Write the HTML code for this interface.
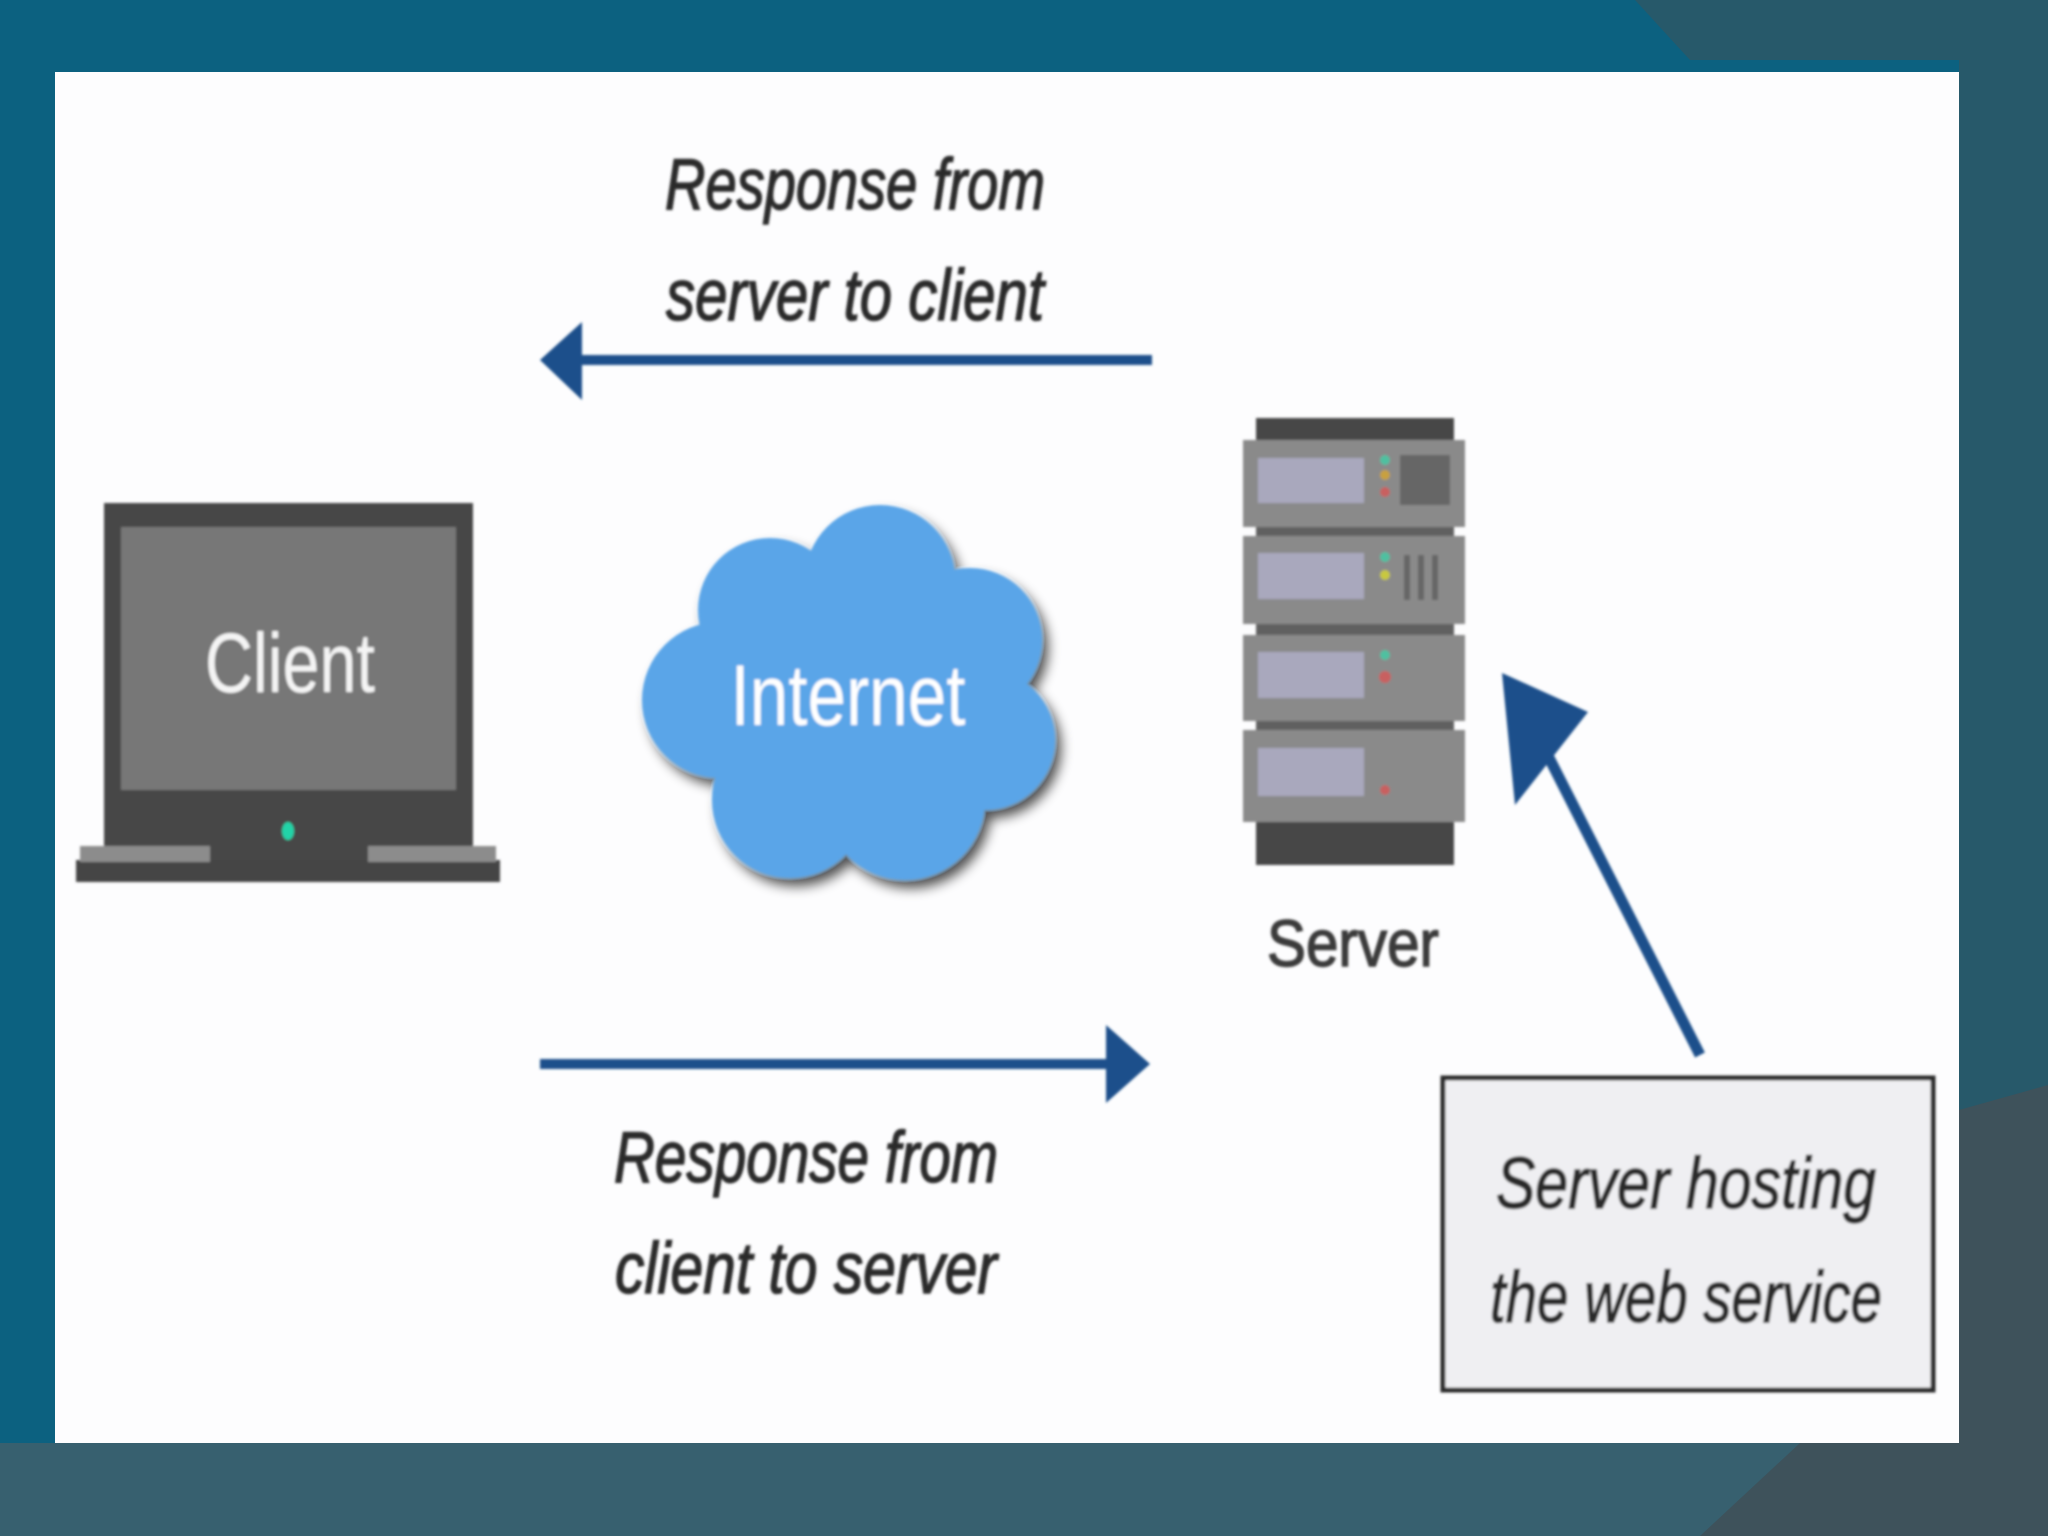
<!DOCTYPE html>
<html><head><meta charset="utf-8"><style>
html,body{margin:0;padding:0;width:2048px;height:1536px;overflow:hidden;background:#0c6180}
svg{display:block}
</style></head><body>
<svg width="2048" height="1536" viewBox="0 0 2048 1536" xmlns="http://www.w3.org/2000/svg">
<defs>
<filter id="sh" x="-20%" y="-20%" width="140%" height="140%"><feGaussianBlur in="SourceAlpha" stdDeviation="6"/><feOffset dx="6" dy="8"/><feComponentTransfer><feFuncA type="linear" slope="0.7"/></feComponentTransfer><feMerge><feMergeNode/><feMergeNode in="SourceGraphic"/></feMerge></filter>
<filter id="bl"><feGaussianBlur stdDeviation="1.2"/></filter>
</defs>
<rect width="2048" height="1536" fill="#0c6180"/>
<polygon points="1635,0 2048,0 2048,1536 1700,1536 1700,1443 1959,1443 1959,60 1690,60" fill="#27596a"/>
<rect x="0" y="1443" width="2048" height="93" fill="#37606f"/>
<polygon points="1959,1110 2048,1085 2048,1536 1700,1536 1800,1443 1959,1443" fill="#3e525b"/>
<rect x="55" y="72" width="1904" height="1371" fill="#fdfdfe"/>
<g filter="url(#bl)">
<line x1="1152" y1="360" x2="570" y2="360" stroke="#1b4f8b" stroke-width="10"/>
<polygon points="540,360 582,322 582,400" fill="#1b4f8b"/>
<line x1="540" y1="1064" x2="1120" y2="1064" stroke="#1b4f8b" stroke-width="10"/>
<polygon points="1150,1064 1106,1025 1106,1103" fill="#1b4f8b"/>
<line x1="1700" y1="1055" x2="1540" y2="740" stroke="#1b4f8b" stroke-width="11"/>
<polygon points="1502,673 1588,712 1515,805" fill="#1b4f8b"/>
<rect x="104" y="503" width="369" height="362" fill="#474747"/>
<rect x="121" y="527" width="335" height="263" fill="#777777"/>
<rect x="76" y="860" width="424" height="22" fill="#444"/>
<rect x="80" y="846" width="130" height="16" fill="#8c8c8c"/>
<rect x="368" y="846" width="128" height="16" fill="#8c8c8c"/>
<ellipse cx="288" cy="831" rx="6" ry="9" fill="#22d4a8"/>
<text x="290" y="692" text-anchor="middle" font-family="Liberation Sans Narrow, Liberation Sans, sans-serif" font-size="84" fill="#f4f4f4" textLength="170" lengthAdjust="spacingAndGlyphs">Client</text>
<g filter="url(#sh)" fill="#5aa5e8">
<circle cx="720" cy="700" r="78"/>
<circle cx="770" cy="610" r="72"/>
<circle cx="880" cy="580" r="75"/>
<circle cx="970" cy="640" r="72"/>
<circle cx="985" cy="740" r="70"/>
<circle cx="905" cy="800" r="80"/>
<circle cx="790" cy="800" r="78"/>
<circle cx="850" cy="700" r="130"/>
</g>
<text x="848" y="725" text-anchor="middle" font-family="Liberation Sans Narrow, Liberation Sans, sans-serif" font-size="86" fill="#ffffff" textLength="235" lengthAdjust="spacingAndGlyphs">Internet</text>
<rect x="1256" y="418" width="198" height="24" fill="#474747"/>
<rect x="1256" y="820" width="198" height="45" fill="#474747"/>
<g fill="#8a8a8a">
<rect x="1243" y="440" width="222" height="87"/>
<rect x="1243" y="536" width="222" height="88"/>
<rect x="1243" y="635" width="222" height="86"/>
<rect x="1243" y="730" width="222" height="92"/>
</g>
<g fill="#606060"><rect x="1256" y="527" width="198" height="9"/><rect x="1256" y="624" width="198" height="11"/><rect x="1256" y="721" width="198" height="9"/></g>
<g fill="#a9a8bd">
<rect x="1258" y="458" width="106" height="45"/>
<rect x="1258" y="553" width="106" height="46"/>
<rect x="1258" y="652" width="106" height="46"/>
<rect x="1258" y="748" width="106" height="48"/>
</g>
<g fill="#666"><rect x="1400" y="455" width="50" height="50"/><rect x="1404" y="555" width="6" height="45"/><rect x="1418" y="555" width="6" height="45"/><rect x="1432" y="555" width="6" height="45"/></g>
<circle cx="1385" cy="460" r="5" fill="#4fc0a0"/><circle cx="1385" cy="475" r="5" fill="#c8a040"/><circle cx="1385" cy="492" r="5" fill="#c86060"/>
<circle cx="1385" cy="557" r="5" fill="#4fc0a0"/><circle cx="1385" cy="575" r="5" fill="#c8c840"/>
<circle cx="1385" cy="655" r="5" fill="#4fc0a0"/><circle cx="1385" cy="677" r="6" fill="#c86060"/>
<circle cx="1385" cy="790" r="5" fill="#c86060"/>
<text x="1353" y="966" text-anchor="middle" font-family="Liberation Sans Narrow, Liberation Sans, sans-serif" font-size="66" fill="#3a3a3a" stroke="#3a3a3a" stroke-width="1.5" textLength="172" lengthAdjust="spacingAndGlyphs">Server</text>
<g font-family="Liberation Sans Narrow, Liberation Sans, sans-serif" font-style="italic" font-size="72" fill="#2b2b2b" stroke="#2b2b2b" stroke-width="1.5" text-anchor="middle">
<text x="855" y="209" textLength="380" lengthAdjust="spacingAndGlyphs">Response from</text>
<text x="855" y="320" textLength="378" lengthAdjust="spacingAndGlyphs">server to client</text>
<text x="806" y="1182" textLength="384" lengthAdjust="spacingAndGlyphs">Response from</text>
<text x="806" y="1293" textLength="382" lengthAdjust="spacingAndGlyphs">client to server</text>
</g>
<rect x="1443" y="1078" width="490" height="312" fill="#efeff2" stroke="#2a2a2a" stroke-width="5"/>
<g font-family="Liberation Sans Narrow, Liberation Sans, sans-serif" font-style="italic" font-size="72" fill="#2b2b2b" stroke="#2b2b2b" stroke-width="1.5" text-anchor="middle">
<text x="1686" y="1208" textLength="380" lengthAdjust="spacingAndGlyphs">Server hosting</text>
<text x="1686" y="1322" textLength="392" lengthAdjust="spacingAndGlyphs">the web service</text>
</g>
</g>
</svg>
</body></html>
